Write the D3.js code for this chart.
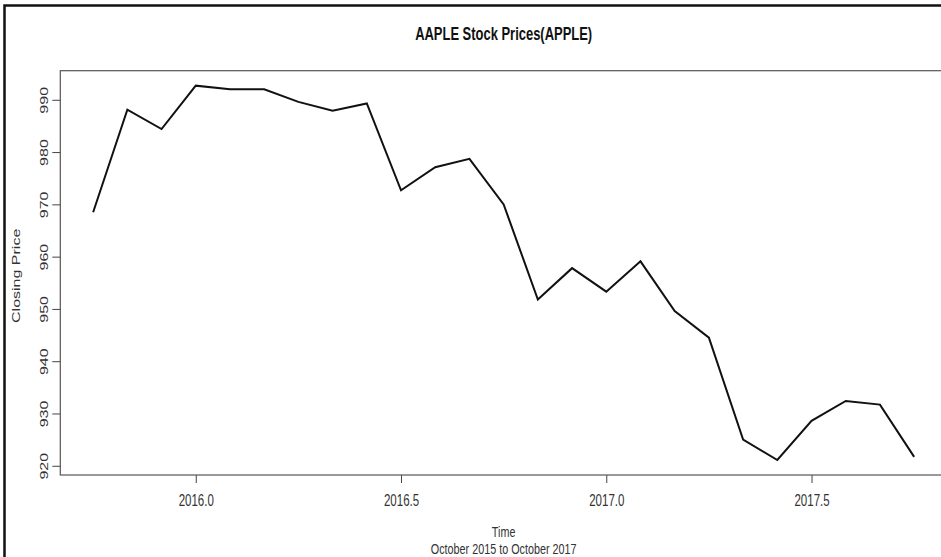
<!DOCTYPE html>
<html>
<head>
<meta charset="utf-8">
<script src="https://cdn.jsdelivr.net/npm/d3@7"></script>
<style>
  body { margin: 0; background: #fff; }
  svg { display: block; font-family: "Liberation Sans", Arial, sans-serif; }
</style>
</head>
<body>
<svg id="chart" width="941" height="557"></svg>
<script>
// monthly closing prices, Oct 2015 .. Oct 2017
const months = ["2015-10", "2015-11", "2015-12", "2016-01", "2016-02", "2016-03", "2016-04",
                "2016-05", "2016-06", "2016-07", "2016-08", "2016-09", "2016-10", "2016-11",
                "2016-12", "2017-01", "2017-02", "2017-03", "2017-04", "2017-05", "2017-06",
                "2017-07", "2017-08", "2017-09", "2017-10"];
const closing = [968.5, 988.1, 984.4, 992.7, 992.0, 992.0, 989.6, 987.9, 989.3, 972.7, 977.1, 978.7,
                 970.0, 951.8, 957.8, 953.3, 959.1, 949.6, 944.5, 925.0, 921.1, 928.6, 932.4, 931.7, 921.7];
const xTicks = [2016.0, 2016.5, 2017.0, 2017.5];
const yTicks = [920, 930, 940, 950, 960, 970, 980, 990];

(() => {
    let svg = d3.select("svg#chart"),
        plot = {left: 60.3, right: 947, top: 70.7, bottom: 475},
        squeeze = 0.72;   // the picture is narrower than tall, text looks condensed

    // decimal years, like a ts() index
    let data = months.map((m, i) => {
        let p = m.split("-");
        return {t: +p[0] + (+p[1] - 1) / 12, v: closing[i]};
    });

    // R style 4% padding on both axes
    let pad = (ext) => { let r = ext[1] - ext[0]; return [ext[0] - r * 0.04, ext[1] + r * 0.04]; };

    let x = d3.scaleLinear().domain(pad(d3.extent(data, d => d.t))).range([plot.left, plot.right]),
        y = d3.scaleLinear().domain(pad(d3.extent(data, d => d.v))).range([plot.bottom, plot.top]);

    // outer frame
    svg.append("rect")
        .attr("x", 4.5).attr("y", 5.5)
        .attr("width", 1000).attr("height", 700)
        .attr("fill", "none")
        .attr("stroke", "#111")
        .attr("stroke-width", 2.5);

    // x axis
    let gx = svg.append("g")
        .attr("transform", "translate(0," + plot.bottom + ")")
        .call(d3.axisBottom(x).tickValues(xTicks).tickFormat(d3.format(".1f")).tickSize(8).tickPadding(0));
    gx.select(".domain").remove();
    gx.selectAll("line").attr("stroke", "#444");
    gx.selectAll("text")
        .attr("y", 0).attr("dy", null)
        .attr("transform", "translate(0,31) scale(" + squeeze + ",1)")
        .attr("font-size", 16)
        .attr("fill", "#333");

    // y axis
    let gy = svg.append("g")
        .attr("transform", "translate(" + plot.left + ",0)")
        .call(d3.axisLeft(y).tickValues(yTicks).tickFormat(d3.format("d")).tickSize(8).tickPadding(0));
    gy.select(".domain").remove();
    gy.selectAll("line").attr("stroke", "#444");
    gy.selectAll("text")
        .attr("x", 0).attr("dy", null)
        .attr("text-anchor", "middle")
        .attr("transform", "translate(-12,0) scale(" + squeeze + ",1) rotate(-90)")
        .attr("font-size", 16)
        .attr("fill", "#333");

    // plot box
    svg.append("rect")
        .attr("x", plot.left).attr("y", plot.top)
        .attr("width", plot.right - plot.left)
        .attr("height", plot.bottom - plot.top)
        .attr("fill", "none")
        .attr("stroke", "#555")
        .attr("stroke-width", 1.2);

    // price line
    svg.append("path")
        .datum(data)
        .attr("fill", "none")
        .attr("stroke", "#111")
        .attr("stroke-width", 2)
        .attr("stroke-linejoin", "miter")
        .attr("d", d3.line().x(d => x(d.t)).y(d => y(d.v)));

    let cx = (plot.left + plot.right) / 2;

    // title
    svg.append("text")
        .attr("transform", "translate(" + cx + ",40) scale(" + squeeze + ",1)")
        .attr("text-anchor", "middle")
        .attr("font-size", 18)
        .attr("font-weight", "bold")
        .attr("fill", "#111")
        .text("AAPLE Stock Prices(APPLE)");

    // axis titles
    svg.append("text")
        .attr("transform", "translate(" + cx + ",536.5) scale(" + squeeze + ",1)")
        .attr("text-anchor", "middle")
        .attr("font-size", 15)
        .attr("fill", "#333")
        .text("Time");

    svg.append("text")
        .attr("transform", "translate(" + cx + ",554) scale(" + squeeze + ",1)")
        .attr("text-anchor", "middle")
        .attr("font-size", 15)
        .attr("fill", "#333")
        .text("October 2015 to October 2017");

    svg.append("text")
        .attr("transform", "translate(20," + ((plot.top + plot.bottom) / 2 + 3) + ") scale(" + squeeze + ",1) rotate(-90)")
        .attr("text-anchor", "middle")
        .attr("font-size", 16)
        .attr("fill", "#333")
        .text("Closing Price");
})();
</script>
</body>
</html>
